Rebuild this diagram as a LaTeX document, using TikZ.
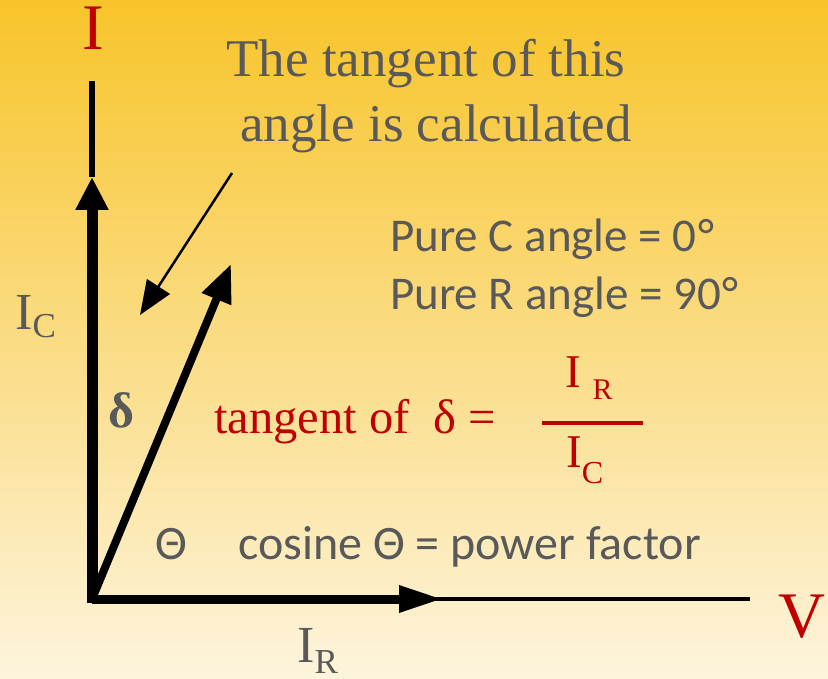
\documentclass[tikz,border=0pt]{standalone}
\usepackage{fontspec}
\setmainfont{Liberation Serif}
\newfontfamily\calib{Carlito}
\usetikzlibrary{arrows.meta}
\definecolor{bgtop}{HTML}{F8C42A}
\definecolor{bgmid}{HTML}{F9DD8C}
\definecolor{bgbot}{HTML}{FDF4DD}
\definecolor{txtgray}{HTML}{595959}
\definecolor{txtred}{HTML}{C00000}
\tikzset{
  serifgray/.style={text=txtgray, inner sep=0pt, font=\fontsize{53}{65}\selectfont},
  sansgray/.style={text=txtgray, inner sep=0pt},
  redlabel/.style={text=txtred, inner sep=0pt},
}
\begin{document}
\begin{tikzpicture}[x=1pt,y=-1pt]
\useasboundingbox (0,0) rectangle (828,679);
\shade[top color=bgtop, middle color=bgmid, bottom color=bgbot] (0,0) rectangle (828,679);

% axis end coordinates
\coordinate (O) at (92,599);
\coordinate (Itop) at (92,81);
\coordinate (Vend) at (750,599);
\coordinate (Ictip) at (92,177);
\coordinate (Irtip) at (443,599);
\coordinate (Ztip) at (231,264);
\coordinate (Pstart) at (232,173);
\coordinate (Ptip) at (140,315);

% axes thin parts
\draw[line width=6pt] (Ictip) -- (Itop);
\draw[line width=4pt] (O) -- (Vend);
% thick vectors
\draw[line width=11pt, -{Triangle[length=33pt,width=31pt]}] (92,603) -- (Ictip);
\draw[line width=9pt, -{Triangle[length=44pt,width=25pt]}] (O) -- (Irtip);
\draw[line width=8pt, -{Triangle[length=38pt,width=30pt]}] (O) -- (Ztip);
\draw[line width=2.5pt, -{Triangle[length=34pt,width=27pt]}] (Pstart) -- (Ptip);

% labels
\node[redlabel, anchor=base, font=\fontsize{65}{70}\selectfont] (Ilab) at (93,50) {I};
\node[redlabel, anchor=base, font=\fontsize{65}{70}\selectfont] (Vlab) at (802,637) {V};
\node[serifgray, anchor=base] (title1) at (426,77) {The tangent of this};
\node[serifgray, anchor=base] (title2) at (436,142) {angle is calculated};

\node[sansgray, anchor=base west, font=\fontsize{52}{60}\selectfont] (IC) at (15,330) {I\raisebox{-8pt}{\fontsize{35}{40}\selectfont C}};
\node[sansgray, anchor=base west, font=\fontsize{52}{60}\selectfont] (IR) at (297,662) {I\raisebox{-11pt}{\fontsize{35}{40}\selectfont R}};

\node[sansgray, anchor=base west, font=\fontsize{50}{60}\selectfont\bfseries] (delta) at (108,427) {δ};
\node[sansgray, anchor=base west, font=\calib\fontsize{48}{54}\selectfont] (theta) at (155,559) {Θ};
\node[sansgray, anchor=base west, font=\calib\fontsize{48}{54}\selectfont] (cosine) at (238,559) {cosine Θ = power factor};
\node[sansgray, anchor=base west, font=\calib\fontsize{47}{50}\selectfont] (pureC) at (390,252) {Pure C angle = 0\kern2pt°};
\node[sansgray, anchor=base west, font=\calib\fontsize{47}{50}\selectfont] (pureR) at (390,309) {Pure R angle = 90\kern2pt°};

\node[redlabel, anchor=base west, font=\fontsize{48.5}{52}\selectfont] (tan) at (214,433) {tangent of\ \ δ =};
\node[redlabel, anchor=base west, font=\fontsize{47}{50}\selectfont] (num) at (565,388) {I\ \raisebox{-12pt}{\fontsize{30}{34}\selectfont R}};
\node[redlabel, anchor=base west, font=\fontsize{47}{50}\selectfont] (den) at (566,467) {I\raisebox{-16pt}{\fontsize{32}{36}\selectfont C}};
\draw[txtred, line width=3.5pt] (542,423) -- (643,423);
\end{tikzpicture}
\end{document}
